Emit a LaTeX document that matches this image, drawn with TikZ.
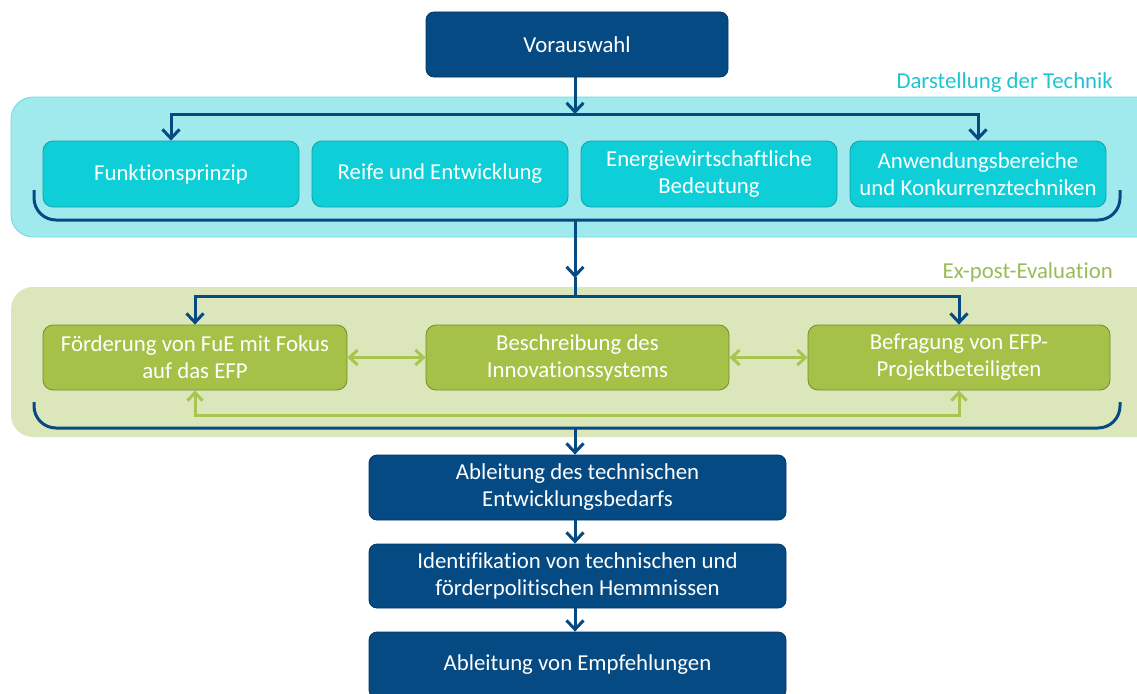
\documentclass[tikz,border=0pt]{standalone}
\usepackage{fontspec}
\setmainfont{Carlito}[Ligatures=NoCommon]
\usetikzlibrary{arrows.meta}
\definecolor{dblue}{RGB}{5,74,131}
\definecolor{dblueb}{RGB}{3,55,100}
\definecolor{cybox}{RGB}{14,207,215}
\definecolor{cyboxb}{RGB}{20,160,168}
\definecolor{cypanel}{RGB}{160,234,238}
\definecolor{cypanelb}{RGB}{110,218,226}
\definecolor{cytext}{RGB}{30,196,208}
\definecolor{grbox}{RGB}{166,193,72}
\definecolor{grboxb}{RGB}{115,140,45}
\definecolor{grpanel}{RGB}{219,231,187}
\definecolor{grtext}{RGB}{155,187,89}
\definecolor{grline}{RGB}{166,198,80}
\tikzset{
  txt/.style={font=\fontsize{22.8}{27}\selectfont, text=white, align=center, inner sep=0pt},
  bluebox/.style={txt, rounded corners=8pt, fill=dblue, draw=dblueb, line width=0.8pt},
  cyanbox/.style={txt, rounded corners=10pt, fill=cybox, draw=cyboxb, line width=0.8pt, minimum width=256pt, minimum height=66pt},
  greenbox/.style={txt, rounded corners=10pt, fill=grbox, draw=grboxb, line width=0.8pt, minimum height=65pt},
  panel/.style={rounded corners=22pt},
  bline/.style={draw=dblue, line width=3pt},
  barr/.style={bline, -{Straight Barb[length=9pt,width=17pt,line width=3pt]}},
  garr/.style={draw=grline, line width=3pt, {Straight Barb[length=8pt,width=15pt,line width=3pt]}-{Straight Barb[length=8pt,width=15pt,line width=3pt]}},
  ptitle/.style={font=\fontsize{22.8}{27}\selectfont, anchor=east, inner sep=0pt}
}
\begin{document}
\begin{tikzpicture}[x=1pt,y=-1pt]
\useasboundingbox (0,0) rectangle (1137,693);
% panels
\fill[cypanel, draw=cypanelb, line width=0.8pt, panel] (11,97) rectangle (1160,237);
\fill[grpanel, panel] (11,287) rectangle (1160,437);
\node[ptitle, text=cytext] (t1) at (1113,83) {Darstellung der Technik};
\node[ptitle, text=grtext] (t2) at (1113,272) {Ex-post-Evaluation};
% top
\node[bluebox, minimum width=302pt, minimum height=65pt] (vor) at (577,44.5) {Vorauswahl};
% cyan boxes
\node[cyanbox] (c1) at (171,174) {Funktionsprinzip};
\node[cyanbox] (c2) at (440,174) {Reife und Entwicklung};
\node[cyanbox] (c3) at (709,174) {Energiewirtschaftliche\\Bedeutung};
\node[cyanbox] (c4) at (978,174) {Anwendungsbereiche\\und Konkurrenztechniken};
% green boxes
\node[greenbox, minimum width=304pt] (g1) at (195,357.5) {Förderung von FuE mit Fokus\\auf das EFP};
\node[greenbox, minimum width=303pt] (g2) at (577.5,357.5) {Beschreibung des\\Innovationssystems};
\node[greenbox, minimum width=302pt] (g3) at (959,357.5) {Befragung von EFP-\\Projektbeteiligten};
% bottom boxes
\node[bluebox, minimum width=417pt, minimum height=65pt] (b1) at (577.5,487.5) {Ableitung des technischen\\Entwicklungsbedarfs};
\node[bluebox, minimum width=417pt, minimum height=64pt] (b2) at (577.5,576) {Identifikation von technischen und\\förderpolitischen Hemmnissen};
\node[bluebox, minimum width=417pt, minimum height=66pt] (b3) at (577.5,665) {Ableitung von Empfehlungen};
% coordinates
\coordinate (s1) at (575,114);
\coordinate (k1) at (575,220);
\coordinate (a1) at (575,278);
\coordinate (s2) at (575,296);
\coordinate (k2) at (575,428);
% connectors top section
\draw[barr] (vor.south -| s1) -- (s1);
\draw[barr] (s1) -| (c1.north);
\draw[barr] (s1) -| (c4.north);
\draw[bline, rounded corners=22pt] (34,190) |- (1120,220) -- (1120,190);
\draw[barr] (k1) -- (a1);
% green section
\draw[bline] (a1) ++(0,-1) -- (s2);
\draw[barr] (s2) -| (g1.north);
\draw[barr] (s2) -| (g3.north);
\draw[garr] (g1.east) -- (g2.west);
\draw[garr] (g2.east) -- (g3.west);
\draw[garr] (g1.south) |- (575,415) -| (g3.south);
\draw[bline, rounded corners=22pt] (34,402) |- (1120,428) -- (1120,402);
\draw[barr] (k2) -- (b1.north -| k2);
\draw[barr] (b1.south -| k2) -- (b2.north -| k2);
\draw[barr] (b2.south -| k2) -- (b3.north -| k2);
\end{tikzpicture}
\end{document}
